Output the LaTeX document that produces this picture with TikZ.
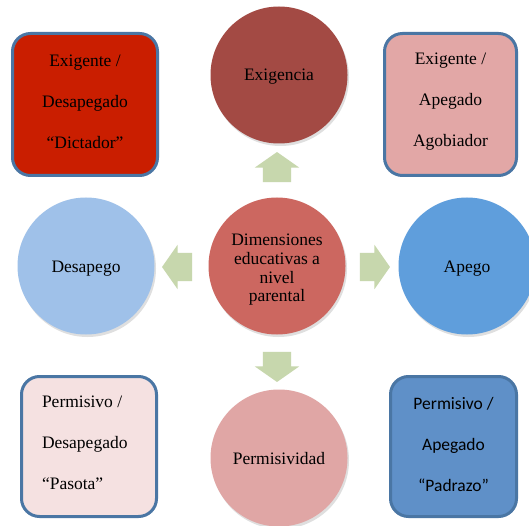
\documentclass[tikz,border=0pt]{standalone}
\usepackage{fontspec}
\setmainfont{Liberation Serif}
\newfontfamily\calibrifont{Carlito}
\usetikzlibrary{shapes.arrows,shadows}
\definecolor{exigc}{HTML}{A34A44}
\definecolor{centc}{HTML}{CC6760}
\definecolor{desac}{HTML}{9FC1E9}
\definecolor{apegc}{HTML}{5F9EDC}
\definecolor{permc}{HTML}{E0A6A5}
\definecolor{borderc}{HTML}{4A76A4}
\definecolor{dictc}{HTML}{CA1E00}
\definecolor{agobc}{HTML}{E2A7A6}
\definecolor{pasoc}{HTML}{F5E1E1}
\definecolor{padrc}{HTML}{5F90C8}
\definecolor{arrowc}{HTML}{C7D7AD}
\tikzset{
  bigcircle/.style={circle, minimum size=137pt, inner sep=0pt, align=center,
    font=\fontsize{17.5}{18.8}\selectfont,
    drop shadow={opacity=0.25, shadow xshift=1.5pt, shadow yshift=-2.5pt}},
  oneline/.style={text height=16pt, text depth=4pt},
  cornerbox/.style={draw=borderc, line width=3pt, rounded corners=18pt,
    inner sep=0pt, align=center, font=\fontsize{17.5}{41}\selectfont},
  blockarrow/.style={single arrow, fill=arrowc, draw=none, inner xsep=0pt,
    inner ysep=14pt, text width=0pt, text height=0pt, text depth=0pt,
    minimum height=30pt, single arrow head extend=8pt,
    single arrow tip angle=110}
}
\begin{document}
\begin{tikzpicture}[x=1pt,y=-1pt]
\useasboundingbox (0,0) rectangle (529,526);
\fill[white] (0,0) rectangle (529,526);
\begin{scope}
\clip (0,0) rectangle (529,526);
% circles
\node[bigcircle, oneline, fill=exigc] (exig) at (279,75) {Exigencia};
\node[bigcircle, fill=centc] (cent) at (277,266) {\raisebox{-8pt}[0pt][0pt]{\parbox{120pt}{\centering Dimensiones\\educativas a\\nivel\\parental}}};
\node[bigcircle, oneline, fill=desac] (desa) at (86,266) {Desapego};
\node[bigcircle, oneline, fill=apegc] (apeg) at (467,266) {Apego};
\node[bigcircle, oneline, fill=permc] (perm) at (279,458) {Permisividad};
% block arrows
\node[blockarrow, rotate=90] (aup) at (277,172) {};
\node[blockarrow, rotate=180] (aleft) at (182,267) {};
\node[blockarrow] (aright) at (370,267) {};
\node[blockarrow, rotate=270] (adown) at (277,362) {};
% corner boxes
\node[cornerbox, fill=dictc, minimum width=145pt, minimum height=142pt] (dict) at (85,104.5)
  {\raisebox{-1.5pt}[0pt][0pt]{\parbox{120pt}{\centering Exigente /\\Desapegado\\“Dictador”}}};
\node[cornerbox, fill=agobc, minimum width=132pt, minimum height=142pt] (agob) at (450.5,104.5)
  {\raisebox{-1.5pt}[0pt][0pt]{\parbox{120pt}{\centering Exigente /\\Apegado\\Agobiador}}};
\node[cornerbox, fill=pasoc, minimum width=135pt, minimum height=140pt] (paso) at (89,446.5)
  {\raisebox{-1pt}[0pt][0pt]{\parbox{94pt}{\raggedright Permisivo /\\Desapegado\\“Pasota”}}};
\node[cornerbox, fill=padrc, minimum width=126pt, minimum height=140pt] (padr) at (453.5,446.5)
  {\raisebox{-2pt}[0pt][0pt]{\parbox{120pt}{\centering\calibrifont Permisivo /\\Apegado\\“Padrazo”}}};
\end{scope}
\end{tikzpicture}
\end{document}
